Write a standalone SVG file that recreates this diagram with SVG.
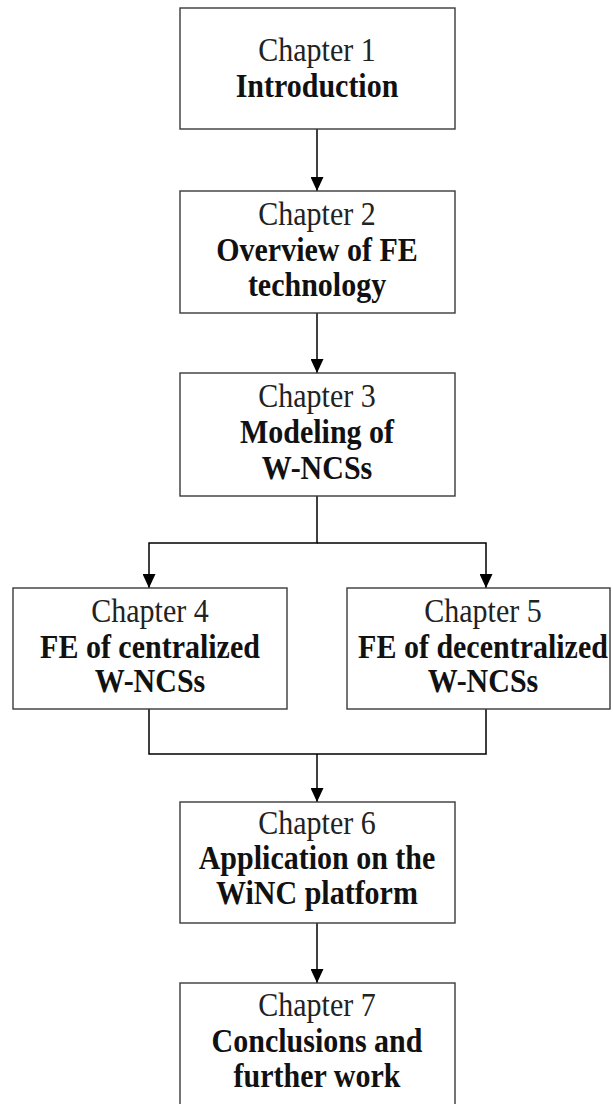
<svg xmlns="http://www.w3.org/2000/svg" width="613" height="1104" viewBox="0 0 613 1104">
  <style>
    .box { fill: #ffffff; stroke: #3a3a3a; stroke-width: 1.4; }
    .link { fill: none; stroke: #000000; stroke-width: 1.5; }
    .num { font-family: "Liberation Serif", "Times New Roman", serif; font-size: 30px; fill: #222222; text-anchor: middle; }
    .title { font-family: "Liberation Serif", "Times New Roman", serif; font-size: 30px; font-weight: bold; fill: #111111; text-anchor: middle; }
  </style>
  <defs>
    <marker id="arrow" markerUnits="userSpaceOnUse" markerWidth="14" markerHeight="13" refX="14" refY="6.5" orient="auto">
      <path d="M0,0 L14,6.5 L0,13 Z" fill="#000000"/>
    </marker>
  </defs>
  <rect width="613" height="1104" fill="#ffffff"/>

  <!-- connectors -->
  <g id="connectors">
    <path class="link" d="M317,129 V191" marker-end="url(#arrow)"/>
    <path class="link" d="M317,313 V373" marker-end="url(#arrow)"/>
    <path class="link" d="M317,496 V543 H149 V588" marker-end="url(#arrow)"/>
    <path class="link" d="M317,543 H486 V588" marker-end="url(#arrow)"/>
    <path class="link" d="M149,709 V754 H486 V709"/>
    <path class="link" d="M317,754 V802" marker-end="url(#arrow)"/>
    <path class="link" d="M317,923 V983" marker-end="url(#arrow)"/>
  </g>

  <!-- text is stretched slightly taller than the plain face -->
  <g id="ch1">
    <rect class="box" x="180" y="8" width="275" height="121"/>
    <text class="num" transform="translate(317,61) scale(1,1.09)">Chapter 1</text>
    <text class="title" transform="translate(317,97) scale(1,1.09)">Introduction</text>
  </g>

  <g id="ch2">
    <rect class="box" x="180" y="191" width="275" height="122"/>
    <text class="num" transform="translate(317,225) scale(1,1.09)">Chapter 2</text>
    <text class="title" transform="translate(317,261) scale(1,1.09)">Overview of FE</text>
    <text class="title" transform="translate(317,296) scale(1,1.09)">technology</text>
  </g>

  <g id="ch3">
    <rect class="box" x="180" y="373" width="275" height="123"/>
    <text class="num" transform="translate(317,407) scale(1,1.09)">Chapter 3</text>
    <text class="title" transform="translate(317,443) scale(1,1.09)">Modeling of</text>
    <text class="title" transform="translate(317,479) scale(1,1.09)">W-NCSs</text>
  </g>

  <g id="ch4">
    <rect class="box" x="13" y="588" width="274" height="121"/>
    <text class="num" transform="translate(150,622) scale(1,1.09)">Chapter 4</text>
    <text class="title" transform="translate(150,658) scale(1,1.09)">FE of centralized</text>
    <text class="title" transform="translate(150,692) scale(1,1.09)">W-NCSs</text>
  </g>

  <g id="ch5">
    <rect class="box" x="347" y="588" width="263" height="121"/>
    <text class="num" transform="translate(483,622) scale(1,1.09)">Chapter 5</text>
    <text class="title" transform="translate(483,658) scale(1,1.09)">FE of decentralized</text>
    <text class="title" transform="translate(483,692) scale(1,1.09)">W-NCSs</text>
  </g>

  <g id="ch6">
    <rect class="box" x="180" y="802" width="275" height="121"/>
    <text class="num" transform="translate(317,834) scale(1,1.09)">Chapter 6</text>
    <text class="title" transform="translate(317,869) scale(1,1.09)">Application on the</text>
    <text class="title" transform="translate(317,904) scale(1,1.09)">WiNC platform</text>
  </g>

  <g id="ch7">
    <rect class="box" x="180" y="983" width="275" height="124"/>
    <text class="num" transform="translate(317,1016) scale(1,1.09)">Chapter 7</text>
    <text class="title" transform="translate(317,1052) scale(1,1.09)">Conclusions and</text>
    <text class="title" transform="translate(317,1087) scale(1,1.09)">further work</text>
  </g>
</svg>
